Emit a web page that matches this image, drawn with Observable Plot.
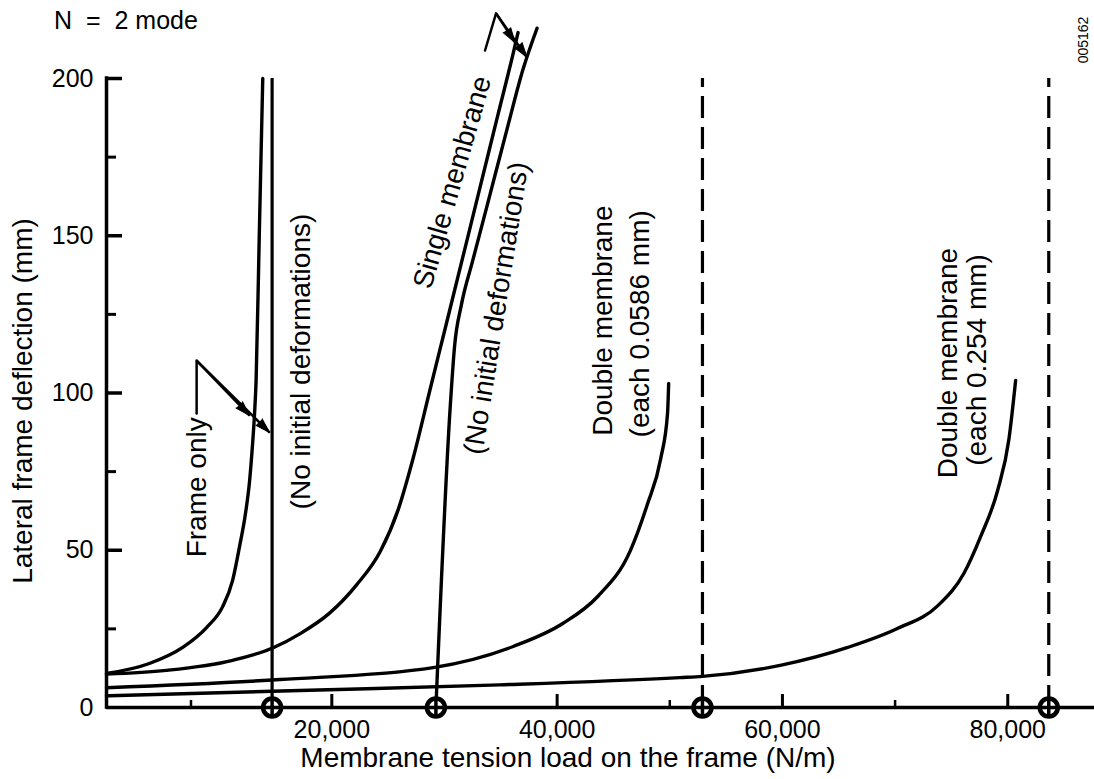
<!DOCTYPE html>
<html>
<head>
<meta charset="utf-8">
<script src="https://cdn.jsdelivr.net/npm/d3@7"></script>
<script src="https://cdn.jsdelivr.net/npm/@observablehq/plot@0.6"></script>
<style>
  body { margin: 0; background: #fff; }
  #chart { width: 1094px; height: 779px; }
  svg text { white-space: pre; }
</style>
</head>
<body>
<div id="chart"></div>
<script>
const FONT = "'Liberation Sans', Arial, Helvetica, sans-serif";

// ---- data (membrane tension load N/m, lateral frame deflection mm) ----
const frameOnlyLoad = [0, 3800, 6800, 8900, 10300, 11200, 11800, 12350, 12700, 12950, 13150, 13280, 13560, 13870];
const frameOnlyDefl = [10.8, 14, 19.2, 25.5, 32, 40.5, 51, 62, 72, 83, 94, 104, 150, 200];

const singleLoad = [0, 5300, 11200, 14800, 17200, 19800, 22200, 24300, 25900, 27200, 28700, 30200, 31600, 33200, 34700, 36100, 36530];
const singleDefl = [10.6, 11.8, 15, 19, 23.5, 30, 39, 49.6, 63, 79, 100.8, 122.5, 142.8, 166, 187.8, 208, 214.6];

const singlePerfectLoad = [29240, 30500, 30900, 31500, 32500, 33780, 35560, 36980, 38220];
const singlePerfectDefl = [0, 95, 115, 128, 142, 159.5, 184, 203, 216];

const double0586Load = [0, 15400, 29000, 36100, 40500, 43600, 46500, 48000, 49200, 49800, 49900];
const double0586Defl = [6.3, 8.9, 12.7, 19.4, 26.7, 35.3, 49.9, 64.5, 79.2, 93.5, 103];

const double254Load = [0, 17150, 34900, 50900, 52900, 59800, 65800, 70200, 73800, 76100, 77600, 79100, 80100, 80700];
const double254Defl = [3.7, 5.4, 7.2, 9.5, 9.9, 13.4, 19.1, 25.1, 32.4, 42.6, 54.4, 69, 85.2, 104];

// buckling loads (circled markers on the load axis)
const bucklingLoads = [14700, 29240, 52900, 83640];
const frameOnlyPerfectLoad = [14700];
const dashedLoads = [52900, 83640];

// ticks
const xMajorTicks = [20000, 40000, 60000, 80000];
const xMinorTicks = [7500, 50000, 70000];
const yMajorTicks = [0, 50, 100, 150, 200];
const yMinorTicks = [25, 75, 125, 175];

// curve labels (anchored in data units)
const labelText = ["Frame only", "(No initial deformations)", "Single membrane", "(No initial deformations)",
                   "Double membrane", "(each 0.0586 mm)", "Double membrane", "(each 0.254 mm)"];
const labelLoad = [8000, 17310, 30710, 34620, 44110, 47400, 74740, 77310];
const labelDefl = [70, 110, 167, 127, 123, 122, 109.5, 110.5];
const labelAngle = [-90, -90, -74, -81, -90, -90, -90, -90];

// leader lines & arrows (data units)
const frameLeaderLoad = [8000, 8000];
const frameLeaderDefl = [93.5, 110.3];
const frameArrowEndLoad = [12710, 14490];
const frameArrowEndDefl = [92.8, 87.4];
const singleLeaderLoad = [33600, 34580];
const singleLeaderDefl = [208.9, 220.7];
const singleArrowEndLoad = [36270, 37330];
const singleArrowEndDefl = [211.4, 206.7];

// ---- build tables ----
function rows(name, xs, ys) { return xs.map((x, i) => ({series: name, x, y: ys[i]})); }
const curves = [
  ...rows("frame", frameOnlyLoad, frameOnlyDefl),
  ...rows("single", singleLoad, singleDefl),
  ...rows("singlePerfect", singlePerfectLoad, singlePerfectDefl),
  ...rows("d0586", double0586Load, double0586Defl),
  ...rows("d254", double254Load, double254Defl)
];
const labels = labelText.map((t, i) => ({text: t, x: labelLoad[i], y: labelDefl[i], angle: labelAngle[i]}));
const frameLeader = frameLeaderLoad.map((x, i) => ({x, y: frameLeaderDefl[i]}));
const singleLeader = singleLeaderLoad.map((x, i) => ({x, y: singleLeaderDefl[i]}));

const W = 1094, H = 779, ML = 106, MR = 0, MT = 78, MB = 72;
const xMax = 87700;
const perPxX = xMax / (W - ML - MR);
const perPxY = 200 / (H - MT - MB);
const R = 9;

function arrowsFrom(x0, y0, xs, ys) {
  return xs.map((x, i) => {
    const dxp = (x - x0) / perPxX, dyp = -(ys[i] - y0) / perPxY; // screen deltas
    return {x1: x0, y1: y0, x2: x, y2: ys[i], angle: Math.atan2(dxp, -dyp) * 180 / Math.PI};
  });
}
const frameArrows = arrowsFrom(frameLeaderLoad[1], frameLeaderDefl[1], frameArrowEndLoad, frameArrowEndDefl);
const singleArrows = arrowsFrom(singleLeaderLoad[1], singleLeaderDefl[1], singleArrowEndLoad, singleArrowEndDefl);
const allArrows = [...frameArrows, ...singleArrows];

const svg = Plot.plot({
  width: W, height: H,
  marginLeft: ML, marginRight: MR, marginTop: MT, marginBottom: MB,
  x: {domain: [0, xMax], axis: null},
  y: {domain: [0, 200], axis: null},
  style: {fontFamily: FONT, background: "white", color: "black", overflow: "visible"},
  marks: [
    // curves
    Plot.line(curves, {x: "x", y: "y", z: "series", curve: "monotone-x", stroke: "black", strokeWidth: 3.4}),
    // perfect frame-only vertical
    Plot.ruleX(frameOnlyPerfectLoad, {x: d => d, y1: 0, y2: 200, stroke: "black", strokeWidth: 3.2}),
    // dashed buckling lines
    Plot.ruleX(dashedLoads, {x: d => d, y1: 0, y2: 200, stroke: "black", strokeWidth: 3.2, strokeDasharray: "22,9"}),
    // leaders
    Plot.line(frameLeader, {x: "x", y: "y", stroke: "black", strokeWidth: 2.5}),
    Plot.line(singleLeader, {x: "x", y: "y", stroke: "black", strokeWidth: 2.5}),
    Plot.link(allArrows, {x1: "x1", y1: "y1", x2: "x2", y2: "y2", stroke: "black", strokeWidth: 2.5}),
    Plot.vector(allArrows, {x: "x2", y: "y2", rotate: "angle", length: 15, r: 4.5, anchor: "end", shape: "spike", fill: "black", stroke: "black", strokeWidth: 1}),
    // circled markers
    Plot.dot(bucklingLoads, {x: d => d, y: 0, r: R, fill: "white", stroke: "black", strokeWidth: 4.5}),
    Plot.ruleX(bucklingLoads, {x: d => d, y1: -R * perPxY, y2: R * perPxY, stroke: "black", strokeWidth: 3.5}),
    // axes lines
    Plot.ruleY([0], {stroke: "black", strokeWidth: 3.5}),
    Plot.ruleX([0], {y1: 0, y2: 200, stroke: "black", strokeWidth: 3.5, strokeLinecap: "square"}),
    // ticks (inward)
    Plot.ruleY(yMajorTicks.filter(d => d > 0), {y: d => d, x1: 0, x2: 16 * perPxX, stroke: "black", strokeWidth: 3.5}),
    Plot.ruleY(yMinorTicks, {y: d => d, x1: 0, x2: 10 * perPxX, stroke: "black", strokeWidth: 3}),
    Plot.ruleX(xMajorTicks, {x: d => d, y1: 0, y2: 13 * perPxY, stroke: "black", strokeWidth: 3}),
    Plot.ruleX(xMinorTicks, {x: d => d, y1: 0, y2: 7 * perPxY, stroke: "black", strokeWidth: 2.5}),
    // tick labels
    Plot.text(yMajorTicks, {x: 0, y: d => d, text: d => String(d), textAnchor: "end", dx: -13, fontSize: 25, fill: "black", fontFamily: FONT}),
    Plot.text(xMajorTicks, {x: d => d, y: 0, text: d => d3.format(",")(d), dy: 22, fontSize: 25, fill: "black", fontFamily: FONT}),
    // curve labels
    Plot.text(labels, {x: "x", y: "y", text: "text", rotate: "angle", fontSize: 28, fill: "black", fontFamily: FONT})
  ]
});

const s = d3.select(svg);
s.append("text").attr("x", 126).attr("y", 29).attr("font-size", 25).attr("font-family", FONT)
  .attr("fill", "black").attr("xml:space", "preserve").text("N  =  2 mode");
s.append("text").attr("transform", "translate(22,401) rotate(-90)").attr("text-anchor", "middle")
  .attr("dy", "0.35em").attr("font-size", 28).attr("font-family", FONT).attr("fill", "black")
  .text("Lateral frame deflection (mm)");
s.append("text").attr("x", 568).attr("y", 767).attr("text-anchor", "middle")
  .attr("font-size", 28).attr("font-family", FONT).attr("fill", "black")
  .text("Membrane tension load on the frame (N/m)");
s.append("text").attr("transform", "translate(1083,40) rotate(-90)").attr("text-anchor", "middle")
  .attr("dy", "0.35em").attr("font-size", 14).attr("font-family", FONT).attr("fill", "black")
  .text("005162");

document.getElementById("chart").appendChild(svg);
</script>
</body>
</html>
